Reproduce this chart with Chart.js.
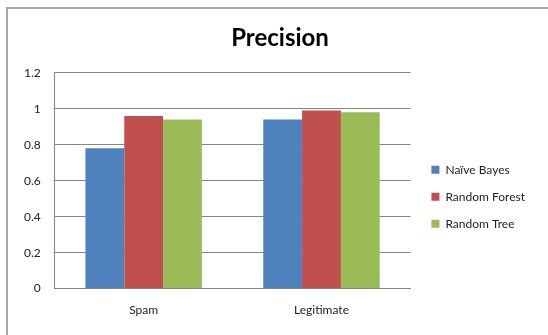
<!DOCTYPE html>
<html>
<head>
<meta charset="utf-8">
<script src="https://cdn.jsdelivr.net/npm/chart.js@4"></script>
<style>
  html, body { margin: 0; padding: 0; background: #fff; }
  #wrap { position: relative; width: 548px; height: 335px; overflow: hidden; }
  #frame { position: absolute; left: 6px; top: 7px; width: 600px; height: 400px;
           border-left: 2px solid #a6a6a6; border-top: 2px solid #a6a6a6; }
  canvas { position: absolute; left: 0; top: 0; }
</style>
</head>
<body>
<div id="wrap">
  <div id="frame"></div>
  <canvas id="chart" width="548" height="335"></canvas>
</div>
<script>
  // Data
  const categories = ['Spam', 'Legitimate'];
  const naiveBayes = [0.78, 0.94];
  const randomForest = [0.96, 0.99];
  const randomTree = [0.94, 0.98];
  const yTicks = [0, 0.2, 0.4, 0.6, 0.8, 1, 1.2];

  const fontFamily = 'Lato, "Open Sans", sans-serif';

  // nudge title and legend after layout, chart area stays put
  const nudge = {
    id: 'nudge',
    afterLayout(chart) {
      chart.titleBlock.left += 21;
      chart.legend.left += 6;
      chart.legend.right += 6;
    }
  };

  new Chart(document.getElementById('chart'), {
    type: 'bar',
    data: {
      labels: categories,
      datasets: [
        { label: 'Naïve Bayes', data: naiveBayes, backgroundColor: '#4f81bd' },
        { label: 'Random Forest', data: randomForest, backgroundColor: '#c0504d' },
        { label: 'Random Tree', data: randomTree, backgroundColor: '#9bbb59' }
      ]
    },
    plugins: [nudge],
    options: {
      responsive: false,
      animation: false,
      categoryPercentage: 0.655,
      barPercentage: 1,
      layout: { padding: { left: 10, top: 24, right: 19, bottom: 4 } },
      plugins: {
        title: {
          display: true,
          text: 'Precision',
          color: '#000',
          font: { family: fontFamily, size: 24, weight: 'bold' },
          padding: { top: 0, bottom: 20 }
        },
        legend: {
          position: 'right',
          // blank legend title only pushes the entries down a bit
          title: { display: true, text: ' ', padding: { top: 0, bottom: 24 }, font: { size: 12 } },
          labels: {
            boxWidth: 8,
            boxHeight: 8,
            padding: 15,
            color: '#222',
            font: { family: fontFamily, size: 12 }
          }
        },
        tooltip: { enabled: false }
      },
      scales: {
        x: {
          grid: { display: false, drawTicks: false },
          border: { color: '#868686' },
          ticks: { color: '#222', padding: 14, font: { family: fontFamily, size: 12 } }
        },
        y: {
          min: 0,
          max: 1.2,
          afterBuildTicks: s => { s.ticks = yTicks.map(v => ({ value: v })); },
          grid: { color: '#868686', drawTicks: false },
          border: { color: '#868686' },
          ticks: {
            color: '#222',
            padding: 14,
            font: { family: fontFamily, size: 12 },
            callback: v => String(v)
          }
        }
      }
    }
  });
</script>
</body>
</html>
